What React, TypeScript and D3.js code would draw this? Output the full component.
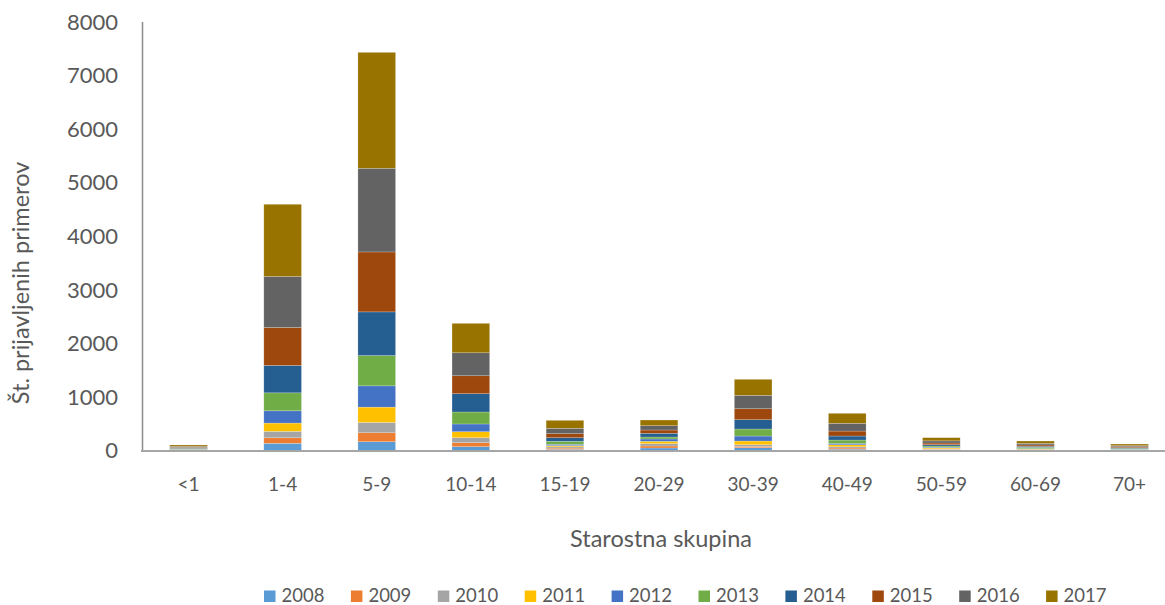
import React from "react";
import * as d3 from "d3";

const categories = ["<1", "1-4", "5-9", "10-14", "15-19", "20-29", "30-39", "40-49", "50-59", "60-69", "70+"];
const years = ["2008", "2009", "2010", "2011", "2012", "2013", "2014", "2015", "2016", "2017"];
const colors = ["#5B9BD5", "#ED7D31", "#A5A5A5", "#FFC000", "#4472C4", "#70AD47", "#255E91", "#9E480E", "#636363", "#997300"];

const v2008 = [3, 134, 164, 71, 22, 47, 52, 24, 14, 6, 4];
const v2009 = [3, 104, 168, 75, 22, 37, 26, 22, 8, 6, 4];
const v2010 = [4, 119, 192, 93, 25, 43, 30, 24, 8, 6, 4];
const v2011 = [5, 155, 286, 112, 22, 45, 69, 37, 18, 8, 6];
const v2012 = [6, 229, 397, 144, 25, 43, 93, 26, 14, 8, 6];
const v2013 = [10, 336, 566, 224, 56, 37, 131, 62, 22, 25, 14];
const v2014 = [12, 511, 815, 341, 67, 69, 174, 75, 24, 20, 14];
const v2015 = [15, 709, 1119, 336, 75, 62, 205, 93, 32, 25, 18];
const v2016 = [20, 951, 1562, 429, 100, 80, 250, 144, 40, 30, 20];
const v2017 = [25, 1349, 2164, 549, 149, 106, 299, 187, 60, 43, 31];

const yTicks = [0, 1000, 2000, 3000, 4000, 5000, 6000, 7000, 8000];

const series = [v2008, v2009, v2010, v2011, v2012, v2013, v2014, v2015, v2016, v2017];

export default function App() {
  const W = 1165, H = 605;
  const font = "Lato, 'Open Sans', sans-serif";
  const textColor = "#595959";

  const rows = categories.map((c, i) => {
    const r: any = { cat: c };
    years.forEach((y, k) => (r[y] = series[k][i]));
    return r;
  });
  const stacked = d3.stack<any>().keys(years)(rows);

  const x = d3.scaleBand<string>().domain(categories).range([141.5, 1176.6]).paddingInner(0.6).paddingOuter(0.3);
  const y = d3.scaleLinear().domain([0, 8000]).range([450.5, 22]);

  const legendX0 = 264;
  const legendStep = 86.9;

  return (
    <svg width={W} height={H} style={{ position: "absolute", left: 0, top: 0, display: "block", background: "#fff" }}>
      {stacked.map((s, k) => (
        <g key={years[k]} fill={colors[k]}>
          {s.map((d, i) => (
            <rect
              key={i}
              x={x(categories[i])}
              y={y(d[1])}
              width={x.bandwidth()}
              height={Math.max(0, y(d[0]) - y(d[1]))}
              stroke="#ffffff"
              strokeOpacity={0.35}
              strokeWidth={0.6}
            />
          ))}
        </g>
      ))}
      <line x1={142.5} x2={142.5} y1={y(8000)} y2={y(0)} stroke="#8c8c8c" strokeWidth={1.5} />
      <line x1={141} x2={W} y1={y(0) + 0.5} y2={y(0) + 0.5} stroke="#a6a6a6" strokeWidth={2} />
      {yTicks.map((t) => (
        <text key={t} x={118} y={y(t)} dy="0.35em" textAnchor="end" fontFamily={font} fontSize={22} fill={textColor}>
          {t}
        </text>
      ))}
      {categories.map((c) => (
        <text key={c} x={(x(c) as number) + x.bandwidth() / 2} y={491} textAnchor="middle" fontFamily={font} fontSize={19} fill={textColor}>
          {c}
        </text>
      ))}
      <text x={661} y={547} textAnchor="middle" fontFamily={font} fontSize={23.5} fill={textColor}>
        Starostna skupina
      </text>
      <text
        transform={`translate(29,283) rotate(-90)`}
        textAnchor="middle"
        fontFamily={font}
        fontSize={23.5}
        fill={textColor}
      >
        Št. prijavljenih primerov
      </text>
      {years.map((yr, k) => (
        <g key={yr} transform={`translate(${legendX0 + k * legendStep},0)`}>
          <rect x={0} y={590.5} width={11.5} height={11.5} fill={colors[k]} />
          <text x={17.5} y={602} fontFamily={font} fontSize={18.5} fill={textColor}>
            {yr}
          </text>
        </g>
      ))}
    </svg>
  );
}
